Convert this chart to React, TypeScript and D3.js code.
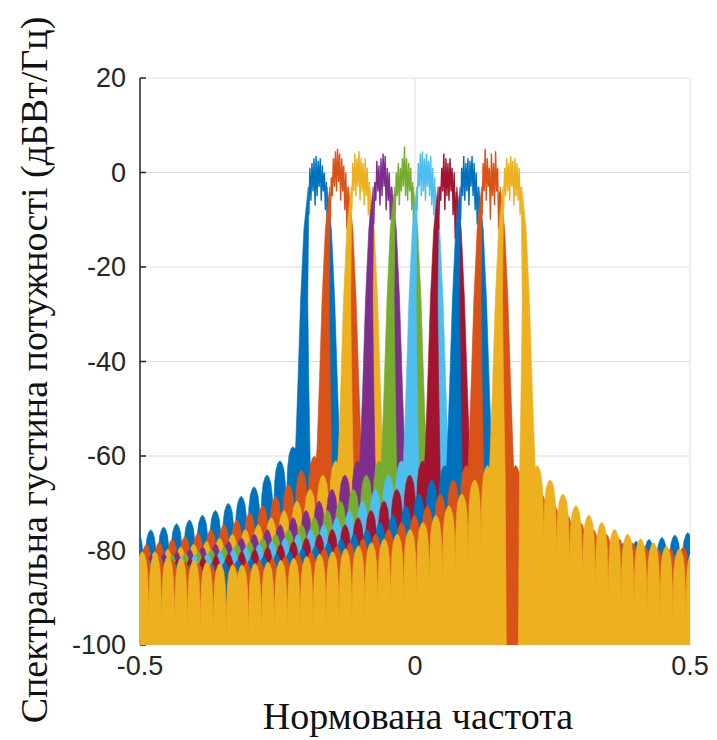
import * as d3 from 'd3'

// band centres (normalised frequency) and MATLAB colour order
const centres = [-0.177, -0.138, -0.099, -0.059, -0.02, 0.02, 0.059, 0.099, 0.138, 0.177]
const colours = ['#0072BD', '#D95319', '#EDB120', '#7E2F8E', '#77AC30', '#4DBEEE', '#A2142F', '#0072BD', '#D95319', '#EDB120']

const lobeLevels = [-58, -61, -64, -66.5, -68.5, -70, -71.5, -72.5, -73.5, -74.3, -75, -75.6, -76.2, -76.7, -77.2, -77.6, -78, -78.4, -78.7, -79]
// per-band offset of that profile, left and right side
const shiftL = [0, -2, -3, -3, -3, -3, -3, -4, -4, -4]
const shiftR = [-3, -3, -3, -3, -3, -3, -3, -4, -4, -4]

// transition band: [offset from centre, dB], top to bottom
const skirtOuter = [[0.017, -3], [0.025, -12], [0.031, -27], [0.036, -45], [0.04, -58]]
const skirtInner = [[0.016, -6], [0.018, -27], [0.016, -45], [0.013, -65], [0.011, -100]]

// passband ripple (dB), left to right
const ripple = [
  [-9, 1, -6, 2, -4, 3, -7, 3.5, -5, 2.5, -3, 3, -6, 1.5, -4, 0, -8, -2],
  [-10, -1, -5, 3, -3, 4.5, -4, 5, -2, 4, -6, 3, -4, 1.5, -8, 0, -12, -3],
  [-8, 2, -4, 4, -5, 3, -3, 4.5, -6, 3, -4, 2, -7, 3, -5, 1, -9, -2],
  [-11, -2, -6, 2.5, -4, 1.5, -7, 3, -5, 4, -3, 3.5, -8, 1, -6, 0, -10, -3],
  [-9, 0, -5, 2, -7, 1, -4, 3, -3, 5.5, -5, 3, -6, 2, -4, 1, -8, -2],
  [-8, 2, -3, 4, -5, 4.5, -4, 3, -6, 4, -3, 2.5, -5, 3.5, -7, 1, -9, -1],
  [-12, -3, -6, 1, -4, 4, -8, 3, -5, 2, -6, 3, -4, 1, -9, 0, -14, -4],
  [-10, 1, -5, 3.5, -6, 2, -4, 3, -7, 2.5, -3, 3.5, -5, 2, -8, 0, -11, -3],
  [-9, 2, -4, 5, -6, 3, -3, 1, -10, 4, -5, 2, -7, 4.5, -4, 1, -12, -4],
  [-8, 1, -5, 3, -4, 2, -6, 3.5, -3, 2.5, -7, 3, -5, 2, -6, 1, -9, -3],
]

const xTicks = [-0.5, 0, 0.5]
const yTicks = [-100, -80, -60, -40, -20, 0, 20]

const W = 717, H = 740
const X0 = 140, X1 = 690, Y0 = 78, Y1 = 645
const x = d3.scaleLinear().domain([-0.5, 0.5]).range([X0, X1])
const y = d3.scaleLinear().domain([-100, 20]).range([Y1, Y0])

// one sidelobe: [fraction of lobe spacing, dB below peak]
const lobeShape = [[-0.5, 16], [-0.47, 9], [-0.41, 4.5], [-0.3, 1.8], [-0.15, 0.5], [0, 0], [0.15, 0.5], [0.3, 1.8], [0.41, 4.5], [0.47, 9], [0.5, 16]]
const LOBE_START = 0.045, LOBE_STEP = 0.0235
const PASS_HALF = 0.016

type P = [number, number]
const line = d3.line<P>().x(d => x(d[0])).y(d => y(Math.max(d[1], -108)))

const sidePoints = (k: number, sign: number, wrap: number): P[] => {
  const shift = sign < 0 ? shiftL[k] : shiftR[k]
  const pts: P[] = []
  skirtInner.slice().reverse().forEach(([o, v]) => pts.push([o, v]))
  skirtOuter.forEach(([o, v]) => pts.push([o, v]))
  lobeLevels.forEach((lvl, j) => {
    lobeShape.forEach(([u, drop]) => {
      if (j === 0 && u < -0.2) return
      pts.push([LOBE_START + LOBE_STEP * (j + u), lvl + shift - drop])
    })
  })
  pts.push([pts[pts.length - 1][0], -100])
  return pts.map(([o, v]) => [centres[k] + sign * o + wrap, v] as P)
}

const passPoints = (k: number, wrap: number): P[] => {
  const n = ripple[k].length
  return ripple[k].map((v, i) => [centres[k] - PASS_HALF + (2 * PASS_HALF * i) / (n - 1) + wrap, v] as P)
}

export default function App() {
  return (
    <svg width={W} height={H} style={{ position: 'absolute', left: 0, top: 0, background: '#fff' }}>
      <defs>
        <clipPath id="plot">
          <rect x={X0 - 1} y={Y0} width={X1 - X0 + 1} height={Y1 - Y0} />
        </clipPath>
      </defs>

      {/* grid */}
      <g stroke="#dedede" strokeWidth={1}>
        {yTicks.map(t => <line key={'gy' + t} x1={X0} x2={X1} y1={y(t)} y2={y(t)} />)}
        {xTicks.map(t => <line key={'gx' + t} x1={x(t)} x2={x(t)} y1={Y0} y2={Y1} />)}
      </g>
      {/* left axis with inward ticks */}
      <g stroke="#262626" strokeWidth={1.5}>
        <line x1={X0} x2={X0} y1={Y0} y2={Y1} />
        {yTicks.map(t => <line key={'ty' + t} x1={X0} x2={X0 + 6} y1={y(t)} y2={y(t)} />)}
      </g>

      <g clipPath="url(#plot)">
        {centres.map((c, k) => (
          <g key={k} fill={colours[k]} stroke={colours[k]}>
            {[-1, 0, 1].map(w => (
              <g key={w}>
                <path d={line(sidePoints(k, -1, w)) + 'Z'} strokeWidth={0.6} />
                <path d={line(sidePoints(k, 1, w)) + 'Z'} strokeWidth={0.6} />
                <path d={line(passPoints(k, w)) ?? ''} fill="none" strokeWidth={1.4} />
              </g>
            ))}
          </g>
        ))}
      </g>

      <g fontFamily="'Liberation Sans', Arial, sans-serif" fontSize={27} fill="#262626">
        {yTicks.map(t => (
          <text key={'ly' + t} x={X0 - 14} y={y(t)} dy="0.35em" textAnchor="end">{t}</text>
        ))}
        {xTicks.map(t => (
          <text key={'lx' + t} x={x(t)} y={Y1 + 30} textAnchor="middle">{t}</text>
        ))}
      </g>
      <g fontFamily="'Liberation Serif', 'Times New Roman', serif" fontSize={38} fill="#111">
        <text x={(X0 + X1) / 2 + 3} y={729} textAnchor="middle">Нормована частота</text>
        <text transform="translate(47,370) rotate(-90)" textAnchor="middle">Спектральна густина потужності (дБВт/Гц)</text>
      </g>
    </svg>
  )
}
